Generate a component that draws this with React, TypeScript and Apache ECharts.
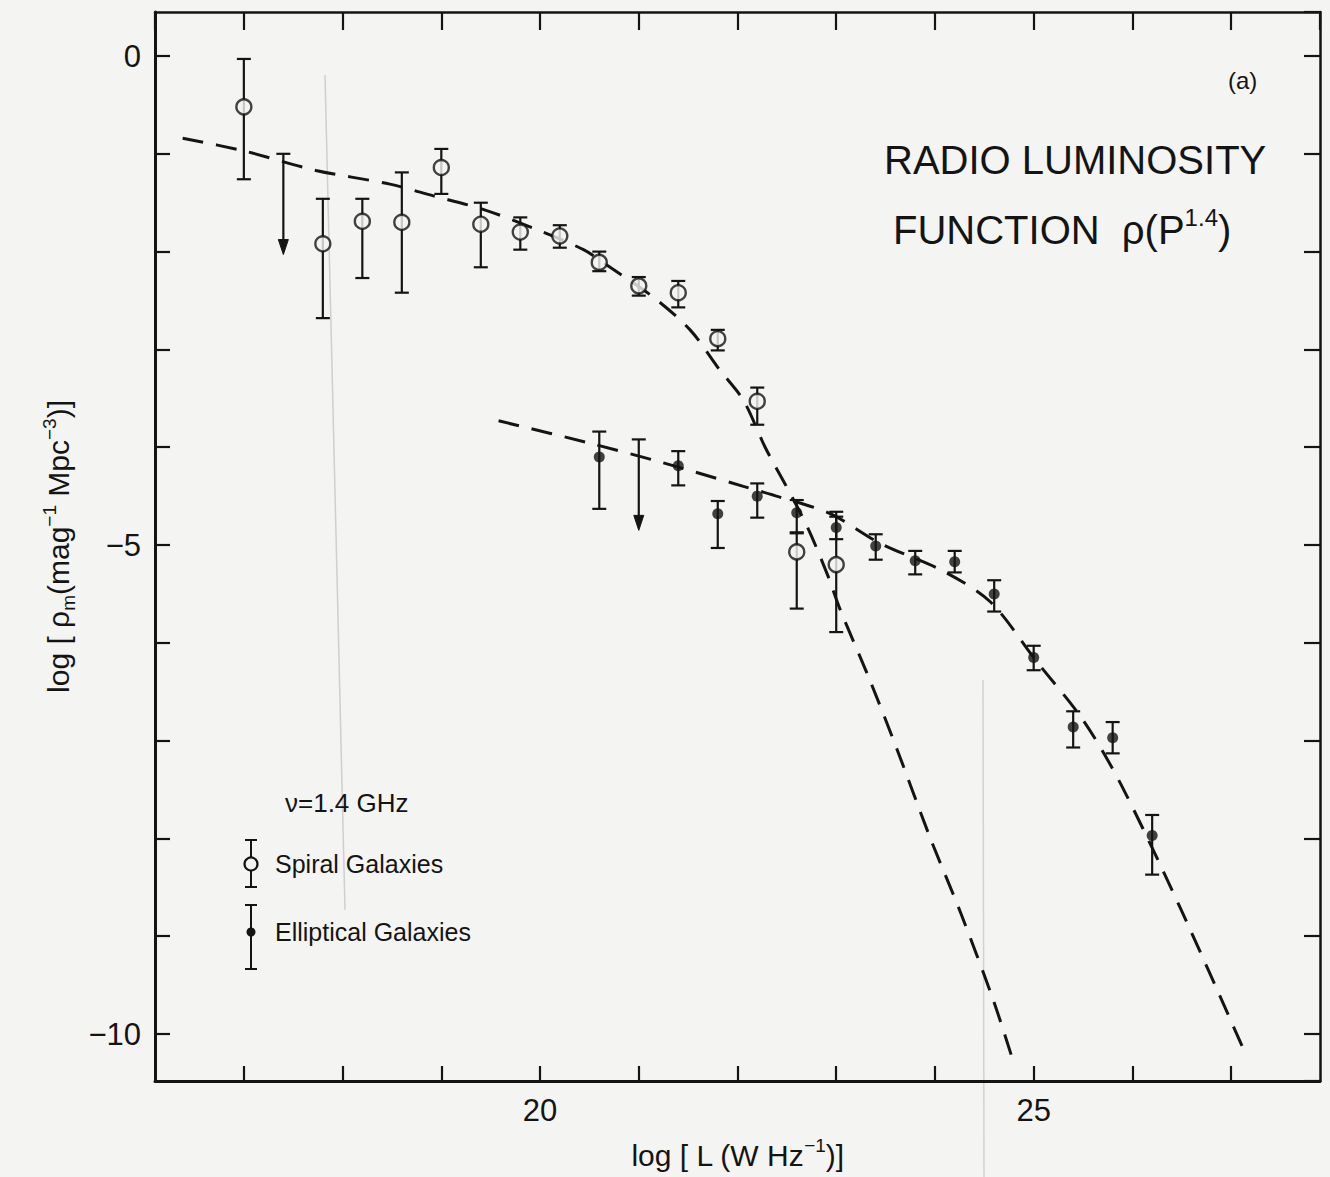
import React, { useEffect, useRef } from "react";
import * as echarts from "echarts";

// ---------- axis ranges / tick labels ----------
const X_MIN = 16.1;
const X_MAX = 27.9;
const Y_MIN = -10.48;
const Y_MAX = 0.45;
const xTickLabels = [20, 25];
const yTickLabels = [0, -5, -10];

// ---------- spiral galaxies (open circles) ----------
const spiralX = [17.0, 17.8, 18.2, 18.6, 19.0, 19.4, 19.8, 20.2, 20.6, 21.0, 21.4, 21.8, 22.2, 22.6, 23.0];
const spiralY = [-0.52, -1.92, -1.69, -1.70, -1.14, -1.72, -1.80, -1.84, -2.11, -2.35, -2.42, -2.89, -3.53, -5.07, -5.20];
const spiralErrHi = [-0.03, -1.46, -1.46, -1.19, -0.95, -1.50, -1.65, -1.73, -2.00, -2.26, -2.30, -2.80, -3.39, -4.87, -4.66];
const spiralErrLo = [-1.26, -2.68, -2.27, -2.42, -1.41, -2.16, -1.98, -1.96, -2.20, -2.45, -2.57, -3.01, -3.77, -5.65, -5.89];
// upper limits (spiral)
const spiralLimX = [17.4];
const spiralLimTop = [-1.0];
const spiralLimTip = [-2.03];

// ---------- elliptical galaxies (filled dots) ----------
const ellX = [20.6, 21.4, 21.8, 22.2, 22.6, 23.0, 23.4, 23.8, 24.2, 24.6, 25.0, 25.4, 25.8, 26.2];
const ellY = [-4.10, -4.19, -4.68, -4.50, -4.67, -4.82, -5.01, -5.16, -5.17, -5.50, -6.15, -6.86, -6.97, -7.97];
const ellErrHi = [-3.84, -4.04, -4.55, -4.37, -4.54, -4.71, -4.89, -5.06, -5.06, -5.36, -6.03, -6.70, -6.81, -7.76];
const ellErrLo = [-4.63, -4.39, -5.03, -4.72, -4.88, -4.94, -5.15, -5.30, -5.28, -5.68, -6.28, -7.07, -7.13, -8.37];
// upper limits (elliptical)
const ellLimX = [21.0];
const ellLimTop = [-3.92];
const ellLimTip = [-4.85];

// ---------- fitted dashed curves ----------
const spiralCurveX = [16.38, 17.0, 17.73, 18.48, 18.92, 19.43, 19.93, 20.44, 20.68, 21.14, 21.52, 21.82, 22.06, 22.28, 22.5, 22.71, 22.91, 23.04, 23.34, 23.62, 23.95, 24.26, 24.59, 24.79];
const spiralCurveY = [-0.84, -0.97, -1.17, -1.31, -1.43, -1.57, -1.76, -1.98, -2.14, -2.46, -2.80, -3.21, -3.52, -4.0, -4.41, -4.82, -5.30, -5.66, -6.38, -7.10, -7.99, -8.76, -9.65, -10.27];
const ellCurveX = [19.58, 20.51, 21.25, 22.06, 22.43, 22.94, 23.44, 24.09, 24.56, 25.03, 25.5, 25.88, 26.48, 27.14];
const ellCurveY = [-3.73, -3.96, -4.16, -4.40, -4.51, -4.68, -4.98, -5.27, -5.58, -6.19, -6.79, -7.44, -8.70, -10.19];

// ---------- style constants ----------
const INK = "#141414";
const BG = "#f4f4f2";
const FONT = "Liberation Sans, Arial, sans-serif";

const zip = (a: number[], b: number[]) => a.map((v, i) => [v, b[i]]);
const zip3 = (a: number[], b: number[], c: number[]) => a.map((v, i) => [v, b[i], c[i]]);

function errorBarRender(params: any, api: any) {
  const x = api.value(0);
  const p1 = api.coord([x, api.value(1)]);
  const p2 = api.coord([x, api.value(2)]);
  const w = 7;
  const st = { stroke: INK, lineWidth: 2.2 };
  return {
    type: "group",
    children: [
      { type: "line", shape: { x1: p1[0], y1: p1[1], x2: p2[0], y2: p2[1] }, style: st },
      { type: "line", shape: { x1: p1[0] - w, y1: p1[1], x2: p1[0] + w, y2: p1[1] }, style: st },
      { type: "line", shape: { x1: p2[0] - w, y1: p2[1], x2: p2[0] + w, y2: p2[1] }, style: st },
    ],
  };
}

function limitRender(params: any, api: any) {
  const x = api.value(0);
  const p1 = api.coord([x, api.value(1)]);
  const p2 = api.coord([x, api.value(2)]);
  const w = 7;
  const head = 15;
  const st = { stroke: INK, lineWidth: 2.2 };
  return {
    type: "group",
    children: [
      { type: "line", shape: { x1: p1[0], y1: p1[1], x2: p2[0], y2: p2[1] - head + 2 }, style: st },
      { type: "line", shape: { x1: p1[0] - w, y1: p1[1], x2: p1[0] + w, y2: p1[1] }, style: st },
      {
        type: "polygon",
        shape: { points: [[p2[0] - 5, p2[1] - head], [p2[0] + 5, p2[1] - head], [p2[0], p2[1]]] },
        style: { fill: INK, stroke: INK, lineWidth: 1 },
      },
    ],
  };
}

const richBase = {
  a: { fontSize: 30, fontFamily: FONT, color: INK, lineHeight: 38 },
  p: { fontSize: 19, fontFamily: FONT, color: INK, lineHeight: 20, verticalAlign: "top" },
  s: { fontSize: 19, fontFamily: FONT, color: INK, lineHeight: 20, verticalAlign: "bottom" },
};

function buildOption() {
  const tickStyle = { color: INK, width: 2.2 };
  return {
    animation: false,
    backgroundColor: BG,
    grid: { left: 155, right: 10, top: 12, bottom: 96, containLabel: false, outerBoundsMode: "none" },
    xAxis: [
      {
        type: "value",
        position: "bottom",
        min: X_MIN,
        max: X_MAX,
        splitNumber: 12,
        minInterval: 1,
        maxInterval: 1,
        axisLine: { show: true, onZero: false, lineStyle: { color: INK, width: 3 } },
        axisTick: { show: true, inside: true, length: 15, lineStyle: tickStyle },
        splitLine: { show: false },
        axisLabel: {
          show: true,
          margin: 14,
          color: INK,
          fontSize: 31,
          fontFamily: FONT,
          showMinLabel: false,
          showMaxLabel: false,
          formatter: (v: number) => {
            const t = xTickLabels.find((k) => Math.abs(k - v) < 1e-6);
            return t === undefined ? "" : String(t);
          },
        },
        name: "{a|log [ L (W Hz}{p|−1}{a|)]}",
        nameLocation: "middle",
        nameGap: 55,
        nameTextStyle: { rich: richBase },
      },
      {
        type: "value",
        position: "top",
        min: X_MIN,
        max: X_MAX,
        splitNumber: 12,
        minInterval: 1,
        maxInterval: 1,
        axisLine: { show: true, onZero: false, lineStyle: { color: INK, width: 2.5 } },
        axisTick: { show: true, inside: true, length: 18, lineStyle: tickStyle },
        axisLabel: { show: false },
        splitLine: { show: false },
      },
    ],
    yAxis: [
      {
        type: "value",
        position: "left",
        min: Y_MIN,
        max: Y_MAX,
        splitNumber: 11,
        minInterval: 1,
        maxInterval: 1,
        axisLine: { show: true, onZero: false, lineStyle: { color: INK, width: 3 } },
        axisTick: { show: true, inside: true, length: 15, lineStyle: tickStyle },
        splitLine: { show: false },
        axisLabel: {
          show: true,
          margin: 14,
          color: INK,
          fontSize: 31,
          fontFamily: FONT,
          showMinLabel: false,
          showMaxLabel: false,
          formatter: (v: number) => {
            const t = yTickLabels.find((k) => Math.abs(k - v) < 1e-6);
            return t === undefined ? "" : t < 0 ? "−" + String(-t) : String(t);
          },
        },
        name: "{a|log [ ρ}{s|m}{a|(mag}{p|−1}{a| Mpc}{p|−3}{a|)]}",
        nameLocation: "middle",
        nameRotate: 90,
        nameGap: 66,
        nameTextStyle: { rich: richBase },
      },
      {
        type: "value",
        position: "right",
        min: Y_MIN,
        max: Y_MAX,
        splitNumber: 11,
        minInterval: 1,
        maxInterval: 1,
        axisLine: { show: true, onZero: false, lineStyle: { color: INK, width: 2.5 } },
        axisTick: { show: true, inside: true, length: 16, lineStyle: tickStyle },
        axisLabel: { show: false },
        splitLine: { show: false },
      },
    ],
    graphic: [
      // faint scan lines
      { type: "line", silent: true, z: 0, shape: { x1: 325, y1: 75, x2: 345, y2: 910 }, style: { stroke: "#cfcfcf", lineWidth: 1.5 } },
      { type: "line", silent: true, z: 0, shape: { x1: 983, y1: 680, x2: 984, y2: 1177 }, style: { stroke: "#d2d2d2", lineWidth: 1.5 } },
      // panel tag and handwritten title
      { type: "text", x: 1228, y: 80, silent: true, style: { text: "(a)", fontSize: 24, fontFamily: FONT, fill: INK, verticalAlign: "middle" } },
      { type: "text", x: 884, y: 160, silent: true, style: { text: "RADIO LUMINOSITY", fontSize: 40, fontFamily: FONT, fill: INK, verticalAlign: "middle" } },
      {
        type: "text",
        x: 893,
        y: 230,
        silent: true,
        style: {
          text: "{a|FUNCTION  ρ(P}{p|1.4}{a|)}",
          verticalAlign: "middle",
          rich: {
            a: { fontSize: 40, fontFamily: FONT, fill: INK, color: INK, lineHeight: 50 },
            p: { fontSize: 24, fontFamily: FONT, fill: INK, color: INK, lineHeight: 26, verticalAlign: "top" },
          },
        },
      },
      // legend
      { type: "text", x: 285, y: 803, silent: true, style: { text: "ν=1.4 GHz", fontSize: 26, fontFamily: FONT, fill: INK, verticalAlign: "middle" } },
      { type: "line", silent: true, shape: { x1: 251, y1: 840, x2: 251, y2: 887 }, style: { stroke: INK, lineWidth: 2 } },
      { type: "line", silent: true, shape: { x1: 245, y1: 840, x2: 257, y2: 840 }, style: { stroke: INK, lineWidth: 2 } },
      { type: "line", silent: true, shape: { x1: 245, y1: 887, x2: 257, y2: 887 }, style: { stroke: INK, lineWidth: 2 } },
      { type: "circle", silent: true, shape: { cx: 251, cy: 864, r: 6.5 }, style: { fill: BG, stroke: INK, lineWidth: 2.2 } },
      { type: "text", x: 275, y: 864, silent: true, style: { text: "Spiral Galaxies", fontSize: 25, fontFamily: FONT, fill: INK, verticalAlign: "middle" } },
      { type: "line", silent: true, shape: { x1: 251, y1: 905, x2: 251, y2: 969 }, style: { stroke: INK, lineWidth: 2 } },
      { type: "line", silent: true, shape: { x1: 245, y1: 905, x2: 257, y2: 905 }, style: { stroke: INK, lineWidth: 2 } },
      { type: "line", silent: true, shape: { x1: 245, y1: 969, x2: 257, y2: 969 }, style: { stroke: INK, lineWidth: 2 } },
      { type: "circle", silent: true, shape: { cx: 251, cy: 932, r: 4.5 }, style: { fill: INK } },
      { type: "text", x: 275, y: 932, silent: true, style: { text: "Elliptical Galaxies", fontSize: 25, fontFamily: FONT, fill: INK, verticalAlign: "middle" } },
    ],
    series: [
      {
        name: "Spiral fit",
        type: "line",
        data: zip(spiralCurveX, spiralCurveY),
        smooth: 0.3,
        showSymbol: false,
        symbol: "none",
        z: 1,
        lineStyle: { color: INK, width: 3, type: [21, 13] },
      },
      {
        name: "Elliptical fit",
        type: "line",
        data: zip(ellCurveX, ellCurveY),
        smooth: 0.3,
        showSymbol: false,
        symbol: "none",
        z: 1,
        lineStyle: { color: INK, width: 3, type: [21, 13] },
      },
      {
        name: "Spiral errors",
        type: "custom",
        renderItem: errorBarRender,
        data: zip3(spiralX, spiralErrHi, spiralErrLo),
        encode: { x: 0, y: [1, 2] },
        z: 2,
      },
      {
        name: "Elliptical errors",
        type: "custom",
        renderItem: errorBarRender,
        data: zip3(ellX, ellErrHi, ellErrLo),
        encode: { x: 0, y: [1, 2] },
        z: 2,
      },
      {
        name: "Spiral upper limits",
        type: "custom",
        renderItem: limitRender,
        data: zip3(spiralLimX, spiralLimTop, spiralLimTip),
        encode: { x: 0, y: [1, 2] },
        z: 2,
      },
      {
        name: "Elliptical upper limits",
        type: "custom",
        renderItem: limitRender,
        data: zip3(ellLimX, ellLimTop, ellLimTip),
        encode: { x: 0, y: [1, 2] },
        z: 2,
      },
      {
        name: "Spiral Galaxies",
        type: "scatter",
        data: zip(spiralX, spiralY),
        symbol: "circle",
        symbolSize: 15,
        z: 3,
        itemStyle: { color: BG, borderColor: INK, borderWidth: 2.4 },
      },
      {
        name: "Elliptical Galaxies",
        type: "scatter",
        data: zip(ellX, ellY),
        symbol: "circle",
        symbolSize: 11,
        z: 3,
        itemStyle: { color: INK },
      },
    ],
  };
}

export default function App() {
  const ref = useRef<HTMLDivElement>(null);
  useEffect(() => {
    if (!ref.current) return;
    const chart = echarts.init(ref.current, null, { renderer: "svg" });
    chart.setOption(buildOption() as any);
    return () => chart.dispose();
  }, []);
  return (
    <div
      ref={ref}
      style={{ position: "absolute", left: 0, top: 0, width: 1330, height: 1177 }}
    />
  );
}
